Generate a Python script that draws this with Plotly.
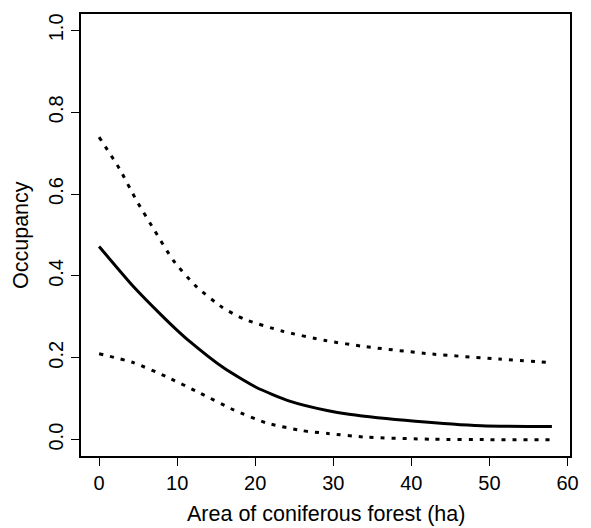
import plotly.graph_objects as go

# Data
x_fit = [0, 4.3, 8.2, 9.9, 11.6, 15.9, 20.1, 24.4, 29.2, 32.0, 40.5, 49.0, 58.0]
occ_fit = [0.472, 0.376, 0.300, 0.269, 0.240, 0.176, 0.128, 0.094, 0.071, 0.062, 0.045, 0.034, 0.032]

x_upper = [0, 2.6, 4.8, 7.1, 9.5, 12.4, 15.8, 18.5, 23.5, 29.0, 34.2, 42.7, 51.2, 58.0]
occ_upper = [0.739, 0.662, 0.584, 0.511, 0.438, 0.375, 0.323, 0.295, 0.265, 0.242, 0.227, 0.209, 0.197, 0.188]

x_lower = [0, 4.4, 8.6, 12.9, 17.2, 21.4, 26.0, 29.3, 34.2, 42.7, 50.0, 58.0]
occ_lower = [0.210, 0.188, 0.154, 0.114, 0.073, 0.041, 0.022, 0.015, 0.006, 0.001, 0.0, 0.0]

x_ticks = [0, 10, 20, 30, 40, 50, 60]
y_ticks = [0.0, 0.2, 0.4, 0.6, 0.8, 1.0]
y_tick_labels = ["0.0", "0.2", "0.4", "0.6", "0.8", "1.0"]

FONT = "Liberation Sans, Arial, sans-serif"
line_kw = dict(color="black", width=3, shape="spline", smoothing=0.6)

fig = go.Figure()
fig.add_trace(go.Scatter(x=x_upper, y=occ_upper, mode="lines", line=dict(dash="4px,7px", **line_kw)))
fig.add_trace(go.Scatter(x=x_fit, y=occ_fit, mode="lines", line=line_kw))
fig.add_trace(go.Scatter(x=x_lower, y=occ_lower, mode="lines", line=dict(dash="4px,7px", **line_kw)))

# page body has an 8px default margin, so the figure is sized/offset to compensate
fig.update_layout(
    width=583, height=520,
    margin=dict(l=73, r=21, t=6, b=72, autoexpand=False),
    paper_bgcolor="white", plot_bgcolor="white",
    showlegend=False,
    font=dict(family=FONT, size=20, color="black"),
    annotations=[
        dict(text="Area of coniferous forest (ha)", xref="paper", yref="paper",
             x=0.5, y=0, xanchor="center", yanchor="middle", yshift=-58,
             showarrow=False, font=dict(size=21.5)),
        dict(text="Occupancy", xref="paper", yref="paper", textangle=-90,
             x=0, y=0.5, xanchor="center", yanchor="middle", xshift=-60,
             showarrow=False, font=dict(size=21.5)),
    ],
)
fig.update_xaxes(
    range=[-2.32, 60.32], tickvals=x_ticks, ticks="outside", ticklen=8, tickwidth=1.2,
    tickcolor="black", showgrid=False, zeroline=False, automargin=False,
    showline=True, linecolor="black", linewidth=1.5, mirror=True,
)
fig.update_yaxes(
    range=[-0.04, 1.04], tickvals=y_ticks, ticktext=y_tick_labels, tickangle=-90,
    ticks="outside", ticklen=8, tickwidth=1.2, tickcolor="black",
    showgrid=False, zeroline=False, automargin=False,
    showline=True, linecolor="black", linewidth=1.5, mirror=True,
)
fig.write_html("out.html")
